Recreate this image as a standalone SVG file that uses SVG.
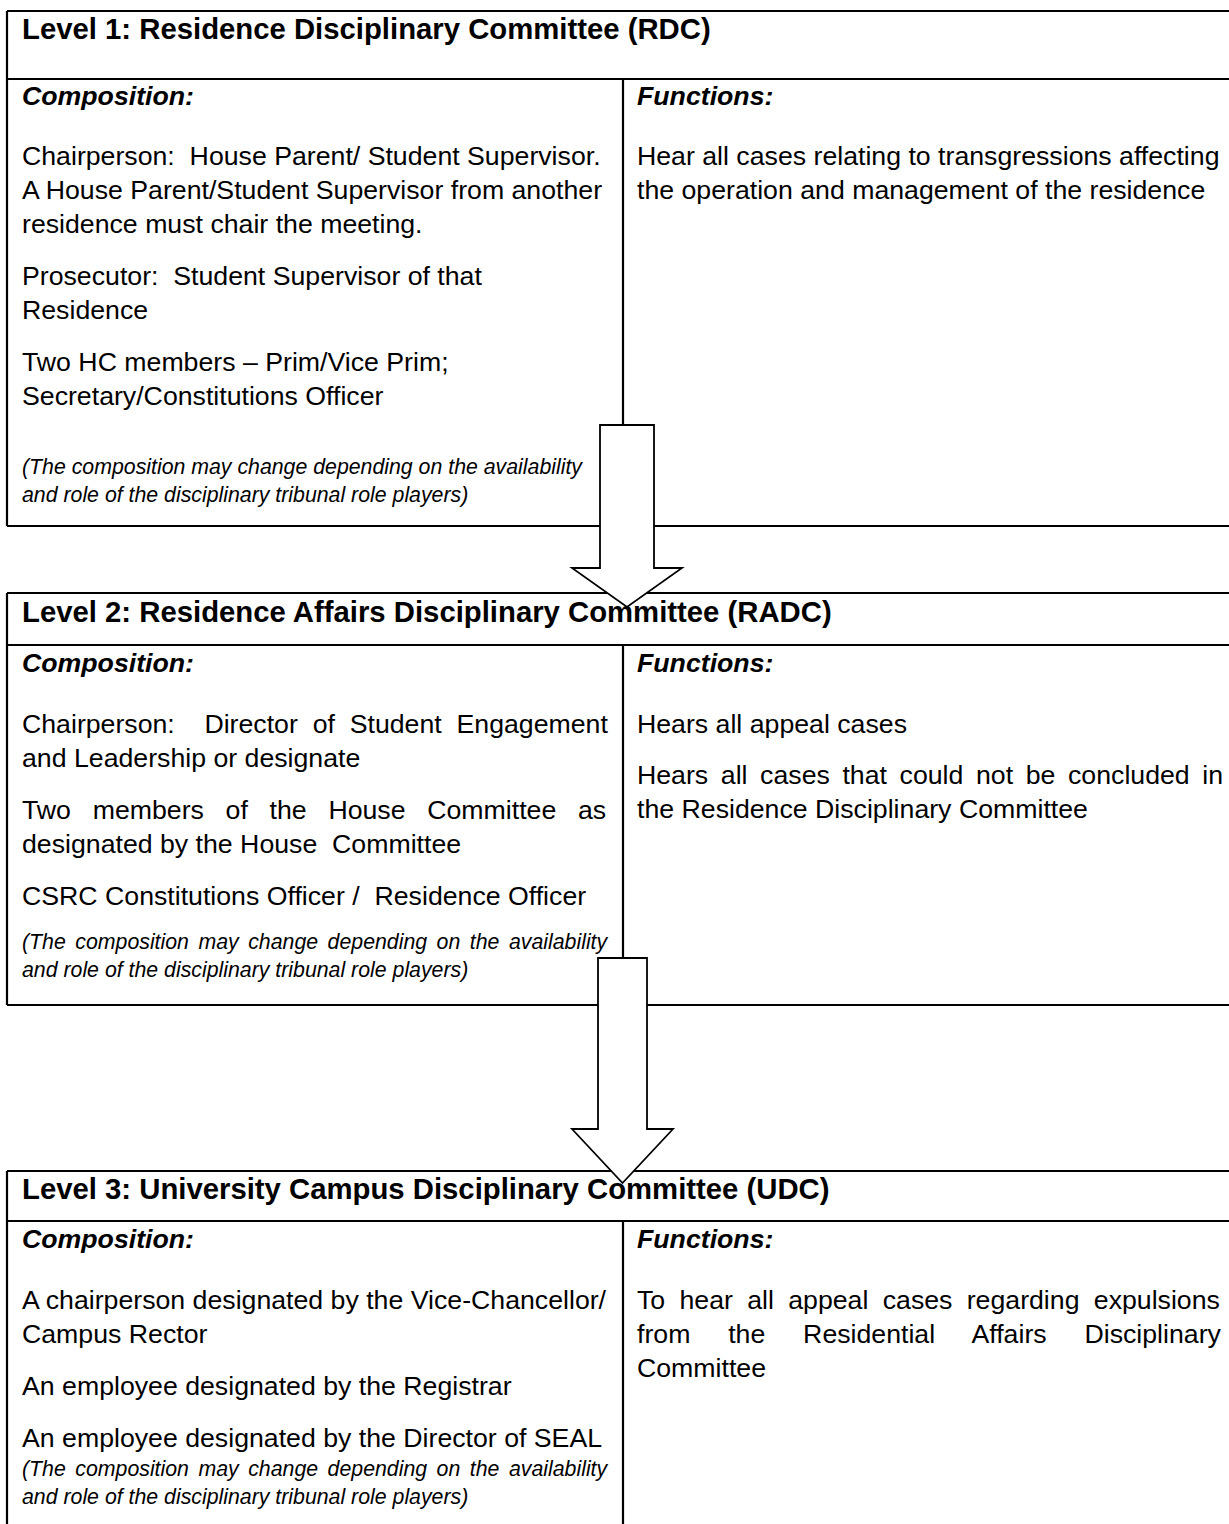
<svg xmlns="http://www.w3.org/2000/svg" width="1229" height="1524" viewBox="0 0 1229 1524">
<style>
text{font-family:"Liberation Sans",Arial,sans-serif;fill:#000}
.h{font-size:29.3px;font-weight:bold}
.s{font-size:26.7px;font-weight:bold;font-style:italic}
.b{font-size:26.7px}
.i{font-size:21.3px;font-style:italic}
.ln{stroke:#000;stroke-width:2.2;fill:none}
.arr{fill:#fff;stroke:#000;stroke-width:1.8;stroke-linejoin:miter}
</style>
<rect width="1229" height="1524" fill="#fff"/>
<g id="connectors">
<polygon class="arr" points="600,425 654,425 654,568 682,568 627,607 572,568 600,568"/>
<polygon class="arr" points="598,958 647,958 647,1129 673,1129 622.5,1183 572,1129 598,1129"/>
</g>
<g id="level1">
<path class="ln" d="M7,11H1240M7,79H1240M7,11V526M7,526H600M654,526H1240M623,79V425"/>
<text class="h" x="22" y="39">Level 1: Residence Disciplinary Committee (RDC)</text>
<text class="s" x="22" y="105">Composition:</text>
<text class="s" x="637" y="105">Functions:</text>
<text class="b" x="22" y="165" xml:space="preserve">Chairperson:  House Parent/ Student Supervisor.</text>
<text class="b" x="22" y="199">A House Parent/Student Supervisor from another</text>
<text class="b" x="22" y="233">residence must chair the meeting.</text>
<text class="b" x="22" y="285" xml:space="preserve">Prosecutor:  Student Supervisor of that</text>
<text class="b" x="22" y="319">Residence</text>
<text class="b" x="22" y="371">Two HC members – Prim/Vice Prim;</text>
<text class="b" x="22" y="405">Secretary/Constitutions Officer</text>
<text class="i" x="22" y="474">(The composition may change depending on the availability</text>
<text class="i" x="22" y="502">and role of the disciplinary tribunal role players)</text>
<text class="b" x="637" y="165">Hear all cases relating to transgressions affecting</text>
<text class="b" x="637" y="199">the operation and management of the residence</text>
</g>
<g id="level2">
<path class="ln" d="M7,593H607.3M646.7,593H1240M7,645H1240M7,593V1005M7,1005H598M647,1005H1240M623,645V958"/>
<text class="h" x="22" y="622">Level 2: Residence Affairs Disciplinary Committee (RADC)</text>
<text class="s" x="22" y="672">Composition:</text>
<text class="s" x="637" y="672">Functions:</text>
<text class="b" x="22" y="733" xml:space="preserve" word-spacing="7.4">Chairperson:  Director of Student Engagement</text>
<text class="b" x="22" y="767">and Leadership or designate</text>
<text class="b" x="22" y="819" word-spacing="14.3">Two members of the House Committee as</text>
<text class="b" x="22" y="853" xml:space="preserve">designated by the House  Committee</text>
<text class="b" x="22" y="905" xml:space="preserve">CSRC Constitutions Officer /  Residence Officer</text>
<text class="i" x="22" y="949" word-spacing="3.6">(The composition may change depending on the availability</text>
<text class="i" x="22" y="977">and role of the disciplinary tribunal role players)</text>
<text class="b" x="637" y="733">Hears all appeal cases</text>
<text class="b" x="637" y="784" word-spacing="5.2">Hears all cases that could not be concluded in</text>
<text class="b" x="637" y="818">the Residence Disciplinary Committee</text>
</g>
<g id="level3">
<path class="ln" d="M7,1171H611.3M633.7,1171H1240M7,1221H1240M7,1171V1530M623,1221V1530"/>
<text class="h" x="22" y="1199">Level 3: University Campus Disciplinary Committee (UDC)</text>
<text class="s" x="22" y="1248">Composition:</text>
<text class="s" x="637" y="1248">Functions:</text>
<text class="b" x="22" y="1309">A chairperson designated by the Vice-Chancellor/</text>
<text class="b" x="22" y="1343">Campus Rector</text>
<text class="b" x="22" y="1395">An employee designated by the Registrar</text>
<text class="b" x="22" y="1447">An employee designated by the Director of SEAL</text>
<text class="i" x="22" y="1476" word-spacing="3.6">(The composition may change depending on the availability</text>
<text class="i" x="22" y="1504">and role of the disciplinary tribunal role players)</text>
<text class="b" x="637" y="1309" word-spacing="6.9">To hear all appeal cases regarding expulsions</text>
<text class="b" x="637" y="1343" word-spacing="30.4">from the Residential Affairs Disciplinary</text>
<text class="b" x="637" y="1377">Committee</text>
</g>
</svg>
